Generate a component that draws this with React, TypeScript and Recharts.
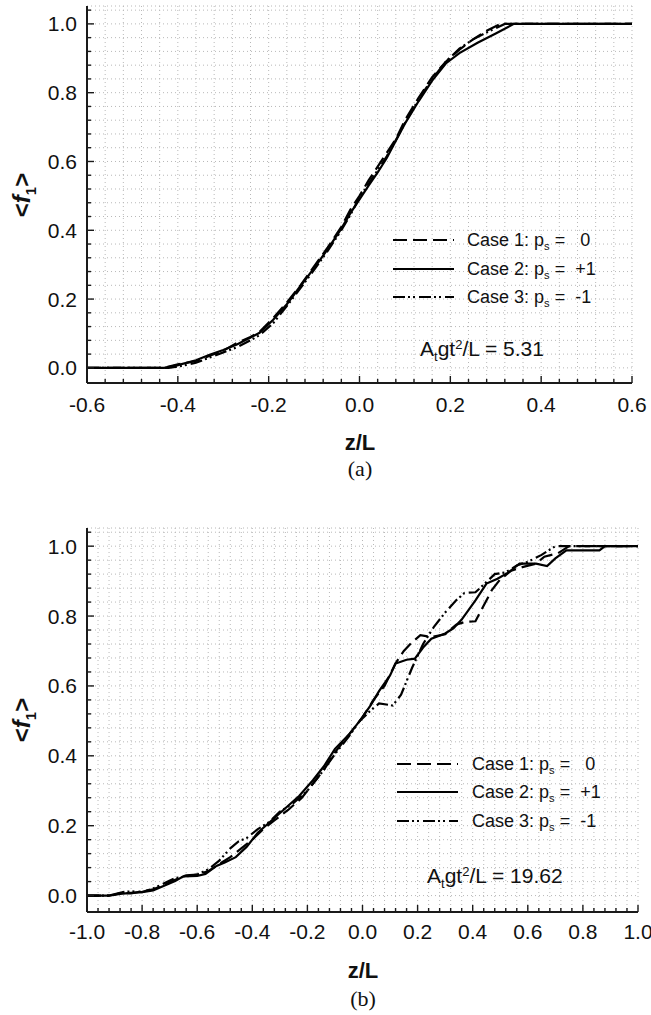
import React from 'react';
import { LineChart, Line, XAxis, YAxis, CartesianGrid } from 'recharts';

// ---------- data: panel (a), A_t g t^2 / L = 5.31 ----------
const aCase1: [number, number][] = [
  [-0.6, 0], [-0.43, 0], [-0.4, 0.01], [-0.36, 0.02], [-0.33, 0.035], [-0.3, 0.05], [-0.27, 0.072],
  [-0.24, 0.09], [-0.22, 0.105], [-0.19, 0.145], [-0.16, 0.19], [-0.13, 0.24], [-0.1, 0.295],
  [-0.07, 0.35], [-0.04, 0.41], [-0.02, 0.46], [0.0, 0.5], [0.02, 0.545], [0.04, 0.585], [0.06, 0.625],
  [0.08, 0.665], [0.1, 0.72], [0.13, 0.785], [0.16, 0.845], [0.19, 0.89], [0.22, 0.925], [0.25, 0.955],
  [0.28, 0.98], [0.31, 1.0], [0.6, 1.0],
];
const aCase2: [number, number][] = [
  [-0.6, 0], [-0.43, 0], [-0.4, 0.008], [-0.36, 0.022], [-0.33, 0.038], [-0.3, 0.052], [-0.27, 0.068],
  [-0.24, 0.088], [-0.22, 0.102], [-0.19, 0.14], [-0.16, 0.185], [-0.13, 0.238], [-0.1, 0.29],
  [-0.07, 0.345], [-0.04, 0.405], [-0.02, 0.45], [0.0, 0.49], [0.02, 0.53], [0.04, 0.568], [0.06, 0.61],
  [0.08, 0.66], [0.1, 0.71], [0.13, 0.775], [0.16, 0.835], [0.19, 0.885], [0.22, 0.915], [0.26, 0.945],
  [0.3, 0.972], [0.34, 1.0], [0.6, 1.0],
];
const aCase3: [number, number][] = [
  [-0.6, 0], [-0.42, 0], [-0.39, 0.006], [-0.36, 0.015], [-0.33, 0.03], [-0.3, 0.045], [-0.27, 0.06],
  [-0.24, 0.08], [-0.22, 0.095], [-0.19, 0.13], [-0.16, 0.18], [-0.13, 0.232], [-0.1, 0.285],
  [-0.07, 0.34], [-0.04, 0.4], [-0.02, 0.445], [0.0, 0.495], [0.02, 0.535], [0.04, 0.575], [0.06, 0.615],
  [0.08, 0.662], [0.1, 0.712], [0.13, 0.78], [0.16, 0.84], [0.19, 0.89], [0.22, 0.928], [0.25, 0.955],
  [0.28, 0.975], [0.32, 1.0], [0.6, 1.0],
];

// ---------- data: panel (b), A_t g t^2 / L = 19.62 ----------
const bCase1: [number, number][] = [
  [-1, 0], [-0.92, 0], [-0.88, 0.008], [-0.84, 0.006], [-0.8, 0.012], [-0.76, 0.018], [-0.72, 0.03],
  [-0.68, 0.045], [-0.64, 0.058], [-0.6, 0.06], [-0.56, 0.07], [-0.52, 0.09], [-0.48, 0.11],
  [-0.44, 0.135], [-0.4, 0.16], [-0.36, 0.19], [-0.32, 0.215], [-0.27, 0.245], [-0.22, 0.28],
  [-0.18, 0.32], [-0.14, 0.36], [-0.1, 0.41], [-0.05, 0.46], [0.0, 0.51], [0.04, 0.56], [0.08, 0.6],
  [0.12, 0.665], [0.15, 0.7], [0.18, 0.725], [0.21, 0.745], [0.25, 0.74], [0.3, 0.748], [0.34, 0.775],
  [0.37, 0.783], [0.41, 0.785], [0.44, 0.83], [0.47, 0.875], [0.5, 0.905], [0.54, 0.93], [0.58, 0.94],
  [0.63, 0.95], [0.66, 0.97], [0.71, 0.98], [0.75, 1.0], [1.0, 1.0],
];
const bCase2: [number, number][] = [
  [-1, 0], [-0.92, 0], [-0.88, 0.005], [-0.84, 0.008], [-0.8, 0.01], [-0.76, 0.015], [-0.72, 0.028],
  [-0.68, 0.042], [-0.65, 0.055], [-0.6, 0.056], [-0.57, 0.062], [-0.53, 0.085], [-0.5, 0.095],
  [-0.46, 0.11], [-0.42, 0.14], [-0.38, 0.18], [-0.33, 0.215], [-0.28, 0.25], [-0.23, 0.285],
  [-0.18, 0.33], [-0.14, 0.37], [-0.1, 0.42], [-0.05, 0.46], [-0.01, 0.5], [0.03, 0.545], [0.06, 0.585],
  [0.1, 0.63], [0.12, 0.664], [0.16, 0.675], [0.19, 0.678], [0.22, 0.71], [0.25, 0.735], [0.3, 0.75],
  [0.33, 0.765], [0.36, 0.79], [0.41, 0.845], [0.45, 0.893], [0.49, 0.907], [0.53, 0.925], [0.57, 0.95],
  [0.63, 0.95], [0.67, 0.943], [0.7, 0.965], [0.74, 0.988], [0.86, 0.988], [0.88, 1.0], [1.0, 1.0],
];
const bCase3: [number, number][] = [
  [-1, 0], [-0.91, 0], [-0.87, 0.01], [-0.84, 0.012], [-0.8, 0.01], [-0.76, 0.02], [-0.72, 0.035],
  [-0.68, 0.05], [-0.64, 0.055], [-0.6, 0.06], [-0.56, 0.075], [-0.52, 0.1], [-0.48, 0.135],
  [-0.45, 0.155], [-0.42, 0.165], [-0.38, 0.19], [-0.34, 0.21], [-0.3, 0.24], [-0.25, 0.265],
  [-0.2, 0.3], [-0.15, 0.35], [-0.1, 0.405], [-0.05, 0.455], [-0.01, 0.5], [0.03, 0.53], [0.06, 0.55],
  [0.11, 0.544], [0.14, 0.575], [0.18, 0.652], [0.22, 0.72], [0.26, 0.77], [0.3, 0.81], [0.34, 0.845],
  [0.37, 0.866], [0.41, 0.868], [0.44, 0.89], [0.48, 0.92], [0.52, 0.925], [0.56, 0.945], [0.6, 0.955],
  [0.65, 0.975], [0.7, 1.0], [1.0, 1.0],
];

// ---------- ticks ----------
const xMinorA = [
  -0.6, -0.56, -0.52, -0.48, -0.44, -0.4, -0.36, -0.32, -0.28, -0.24, -0.2, -0.16, -0.12, -0.08, -0.04,
  0, 0.04, 0.08, 0.12, 0.16, 0.2, 0.24, 0.28, 0.32, 0.36, 0.4, 0.44, 0.48, 0.52, 0.56, 0.6,
];
const xLabelsA = [-0.6, -0.4, -0.2, 0, 0.2, 0.4, 0.6];
const xMinorB = [
  -1, -0.96, -0.92, -0.88, -0.84, -0.8, -0.76, -0.72, -0.68, -0.64, -0.6, -0.56, -0.52, -0.48, -0.44,
  -0.4, -0.36, -0.32, -0.28, -0.24, -0.2, -0.16, -0.12, -0.08, -0.04, 0, 0.04, 0.08, 0.12, 0.16, 0.2,
  0.24, 0.28, 0.32, 0.36, 0.4, 0.44, 0.48, 0.52, 0.56, 0.6, 0.64, 0.68, 0.72, 0.76, 0.8, 0.84, 0.88,
  0.92, 0.96, 1,
];
const xLabelsB = [-1, -0.8, -0.6, -0.4, -0.2, 0, 0.2, 0.4, 0.6, 0.8, 1];
const yMinor = [
  0, 0.04, 0.08, 0.12, 0.16, 0.2, 0.24, 0.28, 0.32, 0.36, 0.4, 0.44, 0.48, 0.52, 0.56, 0.6, 0.64, 0.68,
  0.72, 0.76, 0.8, 0.84, 0.88, 0.92, 0.96, 1, 1.04,
];
const yLabels = [0, 0.2, 0.4, 0.6, 0.8, 1.0];

const caseNames = ['Case 1: p', 'Case 2: p', 'Case 3: p'];
const caseValues = ['   0', '  +1', '  -1'];
const annotations = ['5.31', '19.62'];

// ---------- styles ----------
const FONT = '"Liberation Sans", Arial, Helvetica, sans-serif';
const AX = '#1a1a1a';
const DASH1 = '14 6';
const DASH3 = '12 3 2 3 2 4';
const dashes = [DASH1, undefined, DASH3];

const toPts = (arr: [number, number][]) => arr.map(([z, f]) => ({ z, f }));
const isIn = (arr: number[], v: number) => arr.some((m) => Math.abs(m - v) < 1e-6);
const fmt = (v: number) => (Math.abs(v) < 1e-9 ? 0 : v).toFixed(1);

const makeBottomTick = (majors: number[], gap: number) => (props: any) => {
  const { x, y, payload } = props;
  const major = isIn(majors, payload.value);
  const ay = y - gap;
  return (
    <g>
      <line x1={x} x2={x} y1={ay} y2={ay - (major ? 7 : 4)} stroke={AX} strokeWidth={1.4} />
      {major && (
        <text x={x} y={y} dy="0.71em" textAnchor="middle" fontSize={21} fontFamily={FONT} fill="#111">
          {fmt(payload.value)}
        </text>
      )}
    </g>
  );
};
const makeTopTick = (majors: number[]) => (props: any) => {
  const { x, y, payload } = props;
  const major = isIn(majors, payload.value);
  return <line x1={x} x2={x} y1={y} y2={y + (major ? 7 : 4)} stroke={AX} strokeWidth={1.4} />;
};
const makeLeftTick = (majors: number[], gap: number) => (props: any) => {
  const { x, y, payload } = props;
  const major = isIn(majors, payload.value);
  const ax = x + gap;
  return (
    <g>
      <line x1={ax} x2={ax + (major ? 7 : 4)} y1={y} y2={y} stroke={AX} strokeWidth={1.4} />
      {major && (
        <text x={x} y={y} dy="0.36em" textAnchor="end" fontSize={21} fontFamily={FONT} fill="#111">
          {fmt(payload.value)}
        </text>
      )}
    </g>
  );
};
const makeRightTick = (majors: number[]) => (props: any) => {
  const { x, y, payload } = props;
  const major = isIn(majors, payload.value);
  return <line x1={x} x2={x - (major ? 7 : 4)} y1={y} y2={y} stroke={AX} strokeWidth={1.4} />;
};

const Txt: React.FC<{ cx?: number; left?: number; cy: number; style?: React.CSSProperties; children: React.ReactNode }> = ({
  cx, left, cy, style, children,
}) => (
  <div
    style={{
      position: 'absolute',
      left: cx !== undefined ? cx : left,
      top: cy,
      transform: cx !== undefined ? 'translate(-50%, -50%)' : 'translate(0, -50%)',
      whiteSpace: 'pre',
      lineHeight: 1,
      color: '#111',
      fontFamily: FONT,
      ...style,
    }}
  >
    {children}
  </div>
);

const Sub: React.FC<{ children: React.ReactNode }> = ({ children }) => (
  <span style={{ fontSize: '0.62em', position: 'relative', top: '0.38em' }}>{children}</span>
);
const Sup: React.FC<{ children: React.ReactNode }> = ({ children }) => (
  <span style={{ fontSize: '0.62em', position: 'relative', top: '-0.55em' }}>{children}</span>
);

interface PanelProps {
  top: number;
  width: number;
  height: number;
  margin: { top: number; right: number; bottom: number; left: number };
  xDomain: [number, number];
  yDomain: [number, number];
  xMinor: number[];
  xLabels: number[];
  gap: number;
  series: [number, number][][];
}

const Panel: React.FC<PanelProps> = ({ top, width, height, margin, xDomain, yDomain, xMinor, xLabels, gap, series }) => (
  <div style={{ position: 'absolute', left: 0, top }}>
    <LineChart width={width} height={height} margin={margin}>
      <CartesianGrid stroke="#b8b8b8" strokeDasharray="1 3" strokeWidth={1} />
      <XAxis
        dataKey="z"
        type="number"
        domain={xDomain}
        allowDataOverflow
        ticks={xMinor}
        interval={0}
        tickSize={0}
        tickMargin={gap}
        tickLine={false}
        height={30}
        axisLine={{ stroke: AX, strokeWidth: 2 }}
        tick={makeBottomTick(xLabels, gap)}
      />
      <XAxis
        xAxisId="top"
        orientation="top"
        dataKey="z"
        type="number"
        domain={xDomain}
        allowDataOverflow
        ticks={xMinor}
        interval={0}
        tickSize={0}
        tickMargin={0}
        tickLine={false}
        height={0}
        axisLine={{ stroke: AX, strokeWidth: 2 }}
        tick={makeTopTick(xLabels)}
      />
      <YAxis
        type="number"
        domain={yDomain}
        allowDataOverflow
        ticks={yMinor}
        interval={0}
        tickSize={0}
        tickMargin={10}
        tickLine={false}
        width={80}
        axisLine={{ stroke: AX, strokeWidth: 2 }}
        tick={makeLeftTick(yLabels, 10)}
      />
      <YAxis
        yAxisId="right"
        orientation="right"
        type="number"
        domain={yDomain}
        allowDataOverflow
        ticks={yMinor}
        interval={0}
        tickSize={0}
        tickMargin={0}
        tickLine={false}
        width={0}
        axisLine={{ stroke: AX, strokeWidth: 2 }}
        tick={makeRightTick(yLabels)}
      />
      {series.map((s, i) => (
        <Line
          key={i}
          data={toPts(s)}
          dataKey="f"
          type="linear"
          stroke="#000"
          strokeWidth={2.2}
          strokeDasharray={dashes[i]}
          dot={false}
          activeDot={false}
          isAnimationActive={false}
        />
      ))}
    </LineChart>
  </div>
);

const LegendRow: React.FC<{ x: number; y: number; idx: number; textLeft: number }> = ({ x, y, idx, textLeft }) => (
  <>
    <svg style={{ position: 'absolute', left: x, top: y - 4 }} width={62} height={8}>
      <line x1={0} x2={61} y1={4} y2={4} stroke="#000" strokeWidth={2.2} strokeDasharray={dashes[idx]} />
    </svg>
    <Txt left={textLeft} cy={y} style={{ fontSize: 18 }}>
      {caseNames[idx]}
      <Sub>s</Sub>
      {' ='}
      {caseValues[idx]}
    </Txt>
  </>
);

const YTitle: React.FC<{ cy: number }> = ({ cy }) => (
  <Txt cx={22} cy={cy} style={{ fontSize: 24, fontWeight: 'bold', transform: 'translate(-50%, -50%) rotate(-90deg)' }}>
    {'<'}
    <i>f</i>
    <Sub>1</Sub>
    {'>'}
  </Txt>
);

export default function App() {
  return (
    <div style={{ position: 'absolute', left: 0, top: 0, width: 651, height: 1015, background: '#fff', overflow: 'hidden' }}>
      <Panel
        top={0}
        width={651}
        height={420}
        margin={{ top: 6, right: 19, bottom: 7, left: 7 }}
        xDomain={[-0.6, 0.6]}
        yDomain={[-0.044, 1.052]}
        xMinor={xMinorA}
        xLabels={xLabelsA}
        gap={14}
        series={[aCase1, aCase2, aCase3]}
      />
      <Panel
        top={500}
        width={651}
        height={460}
        margin={{ top: 28, right: 13, bottom: 18, left: 7 }}
        xDomain={[-1, 1]}
        yDomain={[-0.047, 1.052]}
        xMinor={xMinorB}
        xLabels={xLabelsB}
        gap={12}
        series={[bCase1, bCase2, bCase3]}
      />

      {/* panel (a) texts */}
      <YTitle cy={195} />
      <Txt cx={360} cy={443} style={{ fontSize: 22, fontWeight: 'bold' }}>z/L</Txt>
      <Txt cx={360} cy={469} style={{ fontSize: 22, fontFamily: '"Liberation Serif", "Times New Roman", serif' }}>(a)</Txt>
      <LegendRow x={393} y={240} idx={0} textLeft={467} />
      <LegendRow x={393} y={268.5} idx={1} textLeft={467} />
      <LegendRow x={393} y={297} idx={2} textLeft={467} />
      <Txt left={420} cy={348} style={{ fontSize: 21 }}>
        A<Sub>t</Sub>gt<Sup>2</Sup>/L = {annotations[0]}
      </Txt>

      {/* panel (b) texts */}
      <YTitle cy={720} />
      <Txt cx={363} cy={971} style={{ fontSize: 22, fontWeight: 'bold' }}>z/L</Txt>
      <Txt cx={363} cy={999} style={{ fontSize: 22, fontFamily: '"Liberation Serif", "Times New Roman", serif' }}>(b)</Txt>
      <LegendRow x={397} y={763.5} idx={0} textLeft={472} />
      <LegendRow x={397} y={792} idx={1} textLeft={472} />
      <LegendRow x={397} y={821} idx={2} textLeft={472} />
      <Txt left={427} cy={875} style={{ fontSize: 21 }}>
        A<Sub>t</Sub>gt<Sup>2</Sup>/L = {annotations[1]}
      </Txt>
    </div>
  );
}
